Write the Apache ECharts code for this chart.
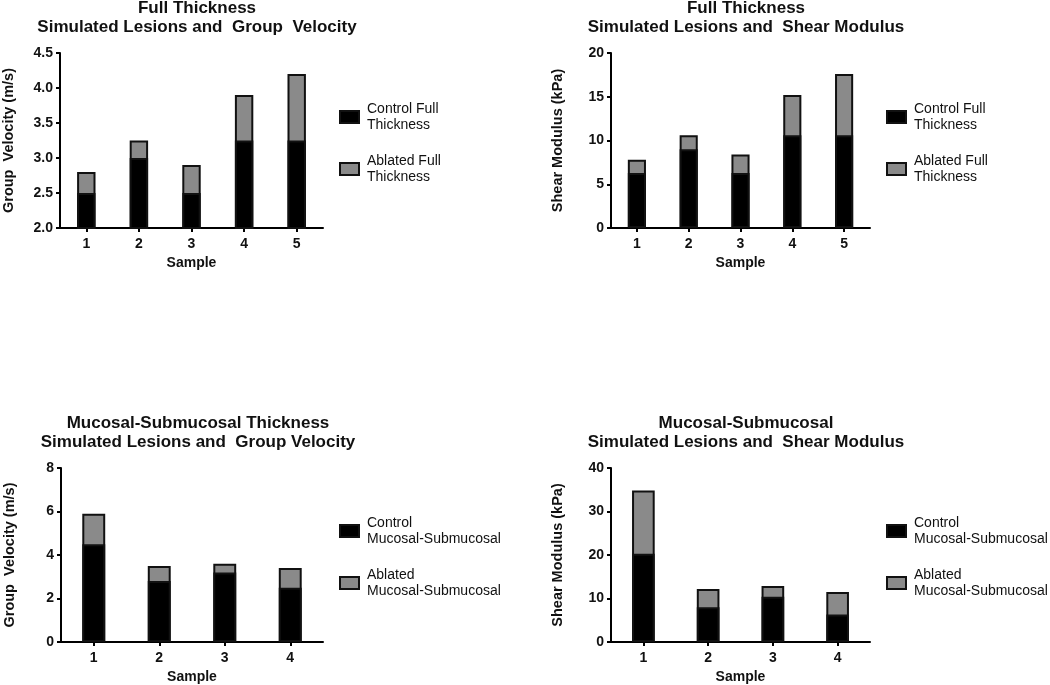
<!DOCTYPE html>
<html><head><meta charset="utf-8">
<script src="https://cdn.jsdelivr.net/npm/echarts@6/dist/echarts.min.js"></script>
<style>html,body{margin:0;padding:0;background:#fff}#c{width:1050px;height:685px}</style>
</head><body><div id="c"></div>
<script>
// ---- data ----
const samplesFull = ['1','2','3','4','5'];
const samplesMuc = ['1','2','3','4'];
const gvFullControl = [2.5, 3.0, 2.5, 3.25, 3.25];
const gvFullAblated = [2.8, 3.25, 2.9, 3.9, 4.2];
const smFullControl = [6.3, 9.0, 6.3, 10.6, 10.6];
const smFullAblated = [7.8, 10.6, 8.4, 15.2, 17.6];
const gvMucControl = [4.5, 2.8, 3.2, 2.5];
const gvMucAblated = [5.9, 3.5, 3.6, 3.4];
const smMucControl = [20.3, 8.0, 10.4, 6.3];
const smMucAblated = [34.8, 12.2, 12.9, 11.5];
const titles = [
  'Full Thickness\nSimulated Lesions and  Group  Velocity',
  'Full Thickness\nSimulated Lesions and  Shear Modulus',
  'Mucosal-Submucosal Thickness\nSimulated Lesions and  Group Velocity',
  'Mucosal-Submucosal\nSimulated Lesions and  Shear Modulus'
];
const yNames = ['Group  Velocity (m/s)', 'Shear Modulus (kPa)', 'Group  Velocity (m/s)', 'Shear Modulus (kPa)'];
const yTicks = [[2.0, 4.5, 0.5], [0, 20, 5], [0, 8, 2], [0, 40, 10]];
const legendFull = ['Control Full\nThickness', 'Ablated Full\nThickness'];
const legendMuc = ['Control\nMucosal-Submucosal', 'Ablated\nMucosal-Submucosal'];

const FONT = 'Liberation Sans, Arial, sans-serif';
const grids = [
  {left: 60, top: 53, width: 263, height: 175},
  {left: 611, top: 53, width: 259, height: 175},
  {left: 61, top: 468, width: 262, height: 175},
  {left: 611, top: 468, width: 259, height: 175}
];
const titlePos = [[192, -6], [741, -6], [193, 409], [741, 409]];
const legendPos = [[334, 96], [881, 96], [334, 510], [881, 510]];
const panels = [
  {cats: samplesFull, ctrl: gvFullControl, abl: gvFullAblated, leg: legendFull, dec: 1},
  {cats: samplesFull, ctrl: smFullControl, abl: smFullAblated, leg: legendFull, dec: 0},
  {cats: samplesMuc, ctrl: gvMucControl, abl: gvMucAblated, leg: legendMuc, dec: 0},
  {cats: samplesMuc, ctrl: smMucControl, abl: smMucAblated, leg: legendMuc, dec: 0}
];
const axisLine = {show: true, lineStyle: {color: '#000', width: 2}};
const axisTick = {show: true, length: 4, lineStyle: {color: '#000', width: 2}};

const option = {
  animation: false,
  backgroundColor: '#fff',
  title: titles.map((t, i) => ({
    text: t, left: titlePos[i][0], top: titlePos[i][1], textAlign: 'center',
    textStyle: {fontFamily: FONT, fontWeight: 'bold', fontSize: 17, lineHeight: 19, color: '#111'}
  })),
  grid: grids,
  legend: panels.map((p, i) => ({
    orient: 'vertical', left: legendPos[i][0], top: legendPos[i][1],
    itemWidth: 19, itemHeight: 12, itemGap: 20, icon: 'rect',
    data: ['c' + i, 'a' + i],
    formatter: n => n[0] === 'c' ? p.leg[0] : p.leg[1],
    textStyle: {fontFamily: FONT, fontSize: 14, lineHeight: 16, color: '#111', padding: [0, 0, 0, 3]}
  })),
  xAxis: panels.map((p, i) => ({
    type: 'category', gridIndex: i, data: p.cats,
    name: 'Sample', nameLocation: 'middle', nameGap: 28,
    nameTextStyle: {fontFamily: FONT, fontWeight: 'bold', fontSize: 14, color: '#111'},
    axisLine, axisTick: Object.assign({alignWithLabel: true}, axisTick),
    axisLabel: {fontFamily: FONT, fontWeight: 'bold', fontSize: 14, color: '#111', margin: 9},
    splitLine: {show: false}
  })),
  yAxis: panels.map((p, i) => ({
    type: 'value', gridIndex: i, min: yTicks[i][0], max: yTicks[i][1], interval: yTicks[i][2],
    name: yNames[i], nameLocation: 'middle', nameGap: i % 2 === 0 ? 44 : 46,
    nameTextStyle: {fontFamily: FONT, fontWeight: 'bold', fontSize: 14.5, color: '#111'},
    axisLine, axisTick,
    axisLabel: {fontFamily: FONT, fontWeight: 'bold', fontSize: 14, color: '#111', margin: 7,
      formatter: v => v.toFixed(p.dec)},
    splitLine: {show: false}
  })),
  series: panels.flatMap((p, i) => [
    {name: 'a' + i, type: 'bar', xAxisIndex: i, yAxisIndex: i, data: p.abl,
     barWidth: '35%', barGap: '-100%', z: 2,
     itemStyle: {color: '#8a8a8a', borderColor: '#111', borderWidth: 2}},
    {name: 'c' + i, type: 'bar', xAxisIndex: i, yAxisIndex: i, data: p.ctrl,
     barWidth: '35%', barGap: '-100%', z: 3,
     itemStyle: {color: '#000', borderColor: '#111', borderWidth: 2}}
  ])
};
const chart = echarts.init(document.getElementById('c'), null, {renderer: 'canvas'});
chart.setOption(option);
</script></body></html>
